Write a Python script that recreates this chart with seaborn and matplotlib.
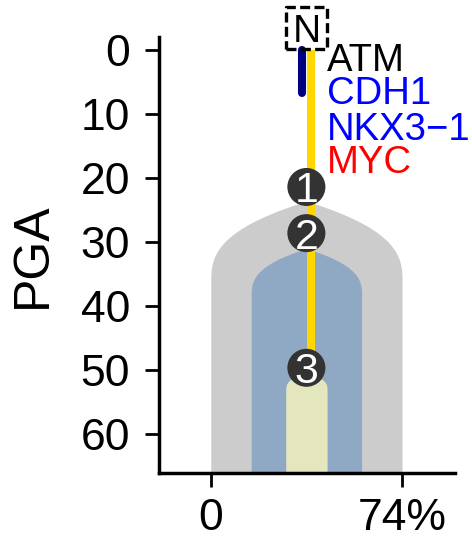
import numpy as np
import matplotlib
matplotlib.use("Agg")
import matplotlib.pyplot as plt
import seaborn as sns

# clones (subclone id, PGA where the node sits, PGA where the fill starts, width in %)
clone_ids = ["1", "2", "3"]
clone_pga = [21.4, 28.6, 49.6]
clone_top = [23.6, 31.0, 50.3]
clone_width = [74, 42.7, 16]
clone_colors = ["#cccccc", "#8fa8c4", "#e4e6be"]

# normal root node
root_label = "N"
root_pga = -3.4

# trunk branches (PGA start/end)
trunk_yellow = [0, 49.6]
trunk_navy = [0, 6.7]

# trunk driver genes
genes = ["ATM", "CDH1", "NKX3\u22121", "MYC"]
gene_colors = ["black", "blue", "blue", "red"]
gene_pga = [3.3, 8.5, 14.0, 19.2]

x_ticks = [0, 74]
x_ticklabels = ["0", "74%"]
y_ticks = [0, 10, 20, 30, 40, 50, 60]

sns.set_theme(style="ticks")
plt.rcParams["font.family"] = ["Liberation Sans", "DejaVu Sans"]
plt.rcParams["text.color"] = "black"
plt.rcParams["axes.labelcolor"] = "black"
plt.rcParams["xtick.color"] = "black"
plt.rcParams["ytick.color"] = "black"

fig = plt.figure(figsize=(4.72, 5.43), dpi=100)
ax = fig.add_axes([0.337, 0.129, 0.627, 0.803])

center = x_ticks[1] / 2
y_bottom = 66

# clone fills
for top, w, col in zip(clone_top, clone_width, clone_colors):
    half = w / 2
    shoulder = half * 0.338
    y = np.linspace(top, y_bottom, 400)
    t = np.clip((y - top) / shoulder, 0, 1)
    hw = half * (1 - (1 - t) ** 2.7)
    ax.fill_betweenx(y, center - hw, center + hw, color=col, lw=0, zorder=1)

# trunk lines
sns.lineplot(x=[center + 1.6] * 2, y=trunk_yellow, color="#ffd700", lw=5.8,
             estimator=None, sort=False, solid_capstyle="butt", zorder=3, ax=ax)
sns.lineplot(x=[center - 1.6] * 2, y=trunk_navy, color="#000080", lw=5.8,
             estimator=None, sort=False, solid_capstyle="round", zorder=3, ax=ax)

# nodes
sns.scatterplot(x=[center] * len(clone_pga), y=clone_pga, s=750, color="#333333",
                edgecolor="none", zorder=5, legend=False, ax=ax)
for cid, p in zip(clone_ids, clone_pga):
    ax.text(center, p, cid, color="white", fontsize=31, ha="center",
            va="center_baseline", zorder=6)

# normal root, dashed square
root = sns.scatterplot(x=[center], y=[root_pga], s=880, marker="s", facecolor="none",
                       edgecolor="black", linewidth=2.4, zorder=6, legend=False, ax=ax)
root.collections[-1].set_linestyle((0, (3, 1.3)))
root.collections[-1].set_clip_on(False)
ax.text(center, root_pga, root_label, fontsize=28, ha="center",
        va="center_baseline", zorder=7, clip_on=False)

# gene labels
for g, c, p in zip(genes, gene_colors, gene_pga):
    ax.text(45, p, g, color=c, fontsize=27.5, ha="left", va="baseline",
            zorder=6, clip_on=False)

ax.set_xlim(-20, 94.5)
ax.set_ylim(y_bottom, -2)
ax.set_xticks(x_ticks)
ax.set_xticklabels(x_ticklabels)
ax.set_yticks(y_ticks)
ax.tick_params(axis="both", labelsize=32, length=10, width=2, color="black")
ax.tick_params(axis="y", pad=11)
ax.tick_params(axis="x", pad=8)
ax.set_ylabel("PGA", fontsize=36)
ax.yaxis.set_label_coords(-0.35, 0.5)
ax.set_xlabel("")
for s in ["left", "bottom"]:
    ax.spines[s].set_linewidth(2.5)
    ax.spines[s].set_color("black")
sns.despine(ax=ax)

fig.savefig("out.png", dpi=100)
